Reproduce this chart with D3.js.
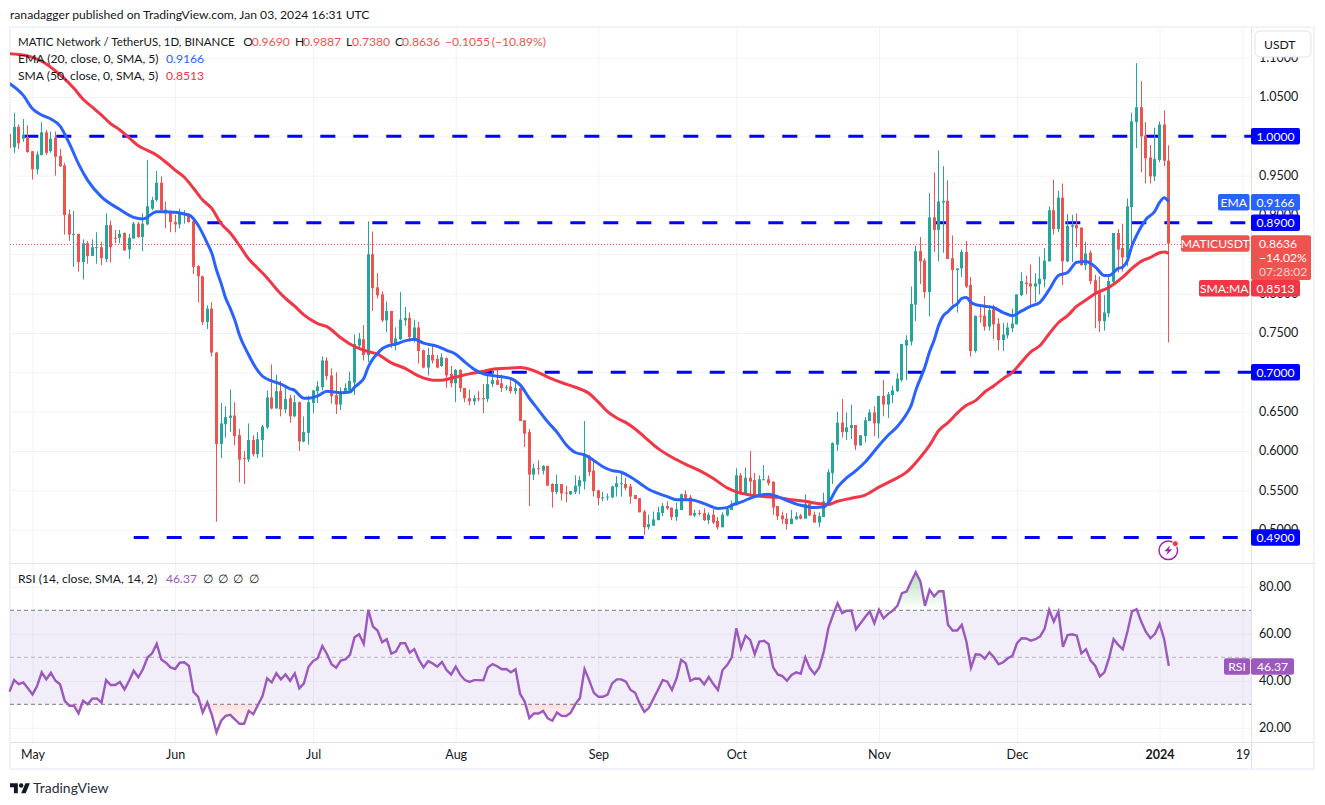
<!DOCTYPE html>
<html>
<head>
<meta charset="utf-8">
<title>MATIC Network / TetherUS</title>
<script src="https://cdn.jsdelivr.net/npm/d3@7/dist/d3.min.js"></script>
<style>
html, body { margin: 0; padding: 0; background: #fff; }
svg { display: block; }
text { font-family: Lato, "Open Sans", sans-serif; font-size: 12.15px; fill: #131722; }
</style>
</head>
<body>
<div id="chart"></div>
<script>
// daily candles, first one is Apr 26 2023, last one is Jan 3 2024
const opens = [
  1.003,.986,1.012,.997,.999,.981,.958,.976,1.005,.981,
  .998,.975,.963,.901,.875,.876,.840,.864,.848,.858,
  .859,.844,.887,.871,.871,.877,.856,.870,.889,.872,
  .888,.908,.919,.941,.907,.903,.891,.888,.900,.900,
  .892,.835,.822,.764,.781,.725,.609,.634,.642,.645,
  .620,.591,.589,.614,.596,.614,.630,.668,.654,.676,
  .653,.667,.644,.662,.612,.623,.661,.676,.681,.715,
  .696,.671,.659,.674,.677,.687,.734,.742,.722,.850,
  .808,.799,.766,.778,.736,.742,.766,.769,.742,.757,
  .728,.706,.722,.717,.708,.718,.698,.686,.703,.680,
  .667,.663,.667,.667,.666,.685,.690,.686,.680,.682,
  .676,.680,.639,.624,.570,.578,.575,.581,.558,.548,
  .558,.547,.545,.548,.555,.561,.593,.575,.550,.540,
  .541,.541,.554,.558,.558,.555,.544,.540,.523,.503,
  .505,.512,.521,.530,.528,.516,.525,.545,.541,.518,
  .521,.521,.512,.519,.511,.503,.518,.525,.531,.569,
  .546,.566,.563,.544,.563,.564,.561,.530,.518,.514,
  .507,.513,.518,.514,.533,.519,.509,.516,.535,.572,
  .608,.636,.624,.629,.633,.607,.619,.638,.649,.635,
  .670,.659,.671,.676,.690,.734,.739,.786,.854,.842,
  .802,.897,.881,.916,.918,.845,.830,.832,.853,.811,
  .727,.772,.772,.758,.780,.762,.741,.747,.756,.761,
  .798,.814,.813,.809,.812,.818,.841,.906,.882,.922,
  .841,.885,.887,.884,.836,.852,.817,.802,.765,.775,
  .815,.877,.858,.846,.910,1.018,1.037,1.001,.973,.949,
  .970,1.015,.969
];
const highs = [
  1.006,1.030,1.015,1.022,1.014,.981,.981,1.018,1.008,1.006,
  1.006,.984,.966,.907,.905,.876,.869,.867,.869,.878,
  .866,.902,.893,.881,.881,.878,.876,.891,.891,.902,
  .970,.923,.956,.949,.917,.905,.900,.908,.906,.902,
  .893,.836,.823,.785,.789,.726,.661,.657,.678,.662,
  .628,.600,.635,.620,.624,.633,.677,.710,.697,.689,
  .680,.671,.671,.663,.644,.670,.677,.689,.720,.719,
  .705,.700,.681,.686,.701,.748,.750,.760,.892,.879,
  .826,.803,.790,.778,.757,.802,.783,.776,.767,.764,
  .729,.731,.736,.722,.724,.719,.708,.704,.704,.680,
  .678,.671,.676,.685,.699,.703,.703,.697,.684,.691,
  .691,.680,.639,.628,.584,.588,.582,.581,.559,.570,
  .558,.556,.549,.569,.568,.638,.595,.588,.550,.548,
  .546,.556,.568,.572,.566,.558,.544,.540,.525,.519,
  .523,.529,.534,.536,.528,.534,.546,.550,.544,.525,
  .525,.527,.522,.526,.516,.522,.527,.537,.578,.572,
  .579,.600,.572,.569,.582,.569,.561,.530,.523,.521,
  .525,.522,.520,.545,.537,.523,.522,.547,.577,.611,
  .650,.666,.649,.659,.633,.620,.643,.653,.657,.670,
  .690,.675,.683,.699,.736,.747,.809,.861,.872,.845,
  .928,.954,.982,.962,.944,.874,.832,.856,.867,.821,
  .772,.785,.797,.785,.786,.769,.763,.763,.781,.799,
  .827,.823,.837,.826,.847,.858,.911,.945,.931,.940,
  .901,.900,.902,.884,.866,.855,.824,.822,.798,.823,
  .877,.882,.889,.921,1.030,1.093,1.070,1.018,.989,1.011,
  1.019,1.033,.9887
];
const lows = [
  .985,.979,.984,.993,.979,.945,.952,.976,.976,.979,
  .950,.961,.875,.867,.834,.828,.818,.838,.848,.838,
  .836,.840,.840,.864,.864,.854,.844,.870,.871,.854,
  .887,.906,.917,.904,.883,.878,.878,.883,.889,.890,
  .825,.789,.760,.755,.720,.510,.591,.617,.624,.607,
  .560,.558,.586,.593,.591,.592,.628,.653,.654,.644,
  .648,.636,.643,.600,.611,.608,.648,.661,.677,.690,
  .660,.647,.652,.672,.676,.671,.732,.715,.713,.778,
  .794,.764,.751,.731,.728,.741,.759,.739,.738,.711,
  .705,.696,.711,.705,.707,.680,.681,.662,.675,.662,
  .658,.658,.663,.648,.662,.681,.684,.675,.677,.673,
  .672,.638,.605,.530,.563,.570,.570,.556,.528,.545,
  .537,.535,.544,.545,.545,.551,.568,.542,.531,.536,
  .537,.540,.542,.542,.550,.533,.539,.522,.493,.500,
  .505,.512,.517,.525,.512,.511,.525,.537,.518,.516,
  .518,.511,.507,.507,.500,.503,.517,.525,.531,.544,
  .544,.544,.542,.544,.563,.556,.519,.512,.507,.500,
  .507,.513,.513,.514,.517,.509,.503,.516,.535,.558,
  .600,.617,.614,.615,.601,.607,.611,.638,.619,.616,
  .644,.642,.661,.675,.688,.690,.734,.765,.812,.794,
  .771,.853,.841,.852,.844,.786,.776,.821,.807,.720,
  .725,.763,.753,.753,.742,.728,.727,.743,.751,.761,
  .797,.799,.784,.789,.799,.808,.841,.875,.878,.811,
  .840,.840,.859,.836,.830,.812,.756,.751,.753,.770,
  .813,.827,.828,.835,.857,.985,.954,.940,.940,.943,
  .967,.962,.738
];
const closes = [
  .985,1.012,.991,1.002,.980,.958,.977,1.005,.979,.997,
  .974,.962,.900,.875,.876,.840,.864,.848,.859,.859,
  .845,.887,.859,.870,.876,.855,.871,.889,.872,.889,
  .911,.919,.941,.906,.902,.891,.888,.902,.902,.891,
  .834,.822,.764,.781,.725,.609,.635,.643,.645,.619,
  .589,.590,.614,.596,.615,.631,.668,.654,.676,.653,
  .666,.644,.662,.612,.624,.662,.677,.682,.715,.695,
  .670,.659,.675,.680,.689,.736,.743,.722,.850,.807,
  .798,.766,.778,.737,.743,.767,.769,.745,.757,.727,
  .706,.722,.715,.706,.719,.696,.686,.703,.680,.667,
  .663,.667,.666,.666,.685,.690,.684,.680,.681,.676,
  .680,.638,.622,.570,.578,.577,.581,.556,.548,.558,
  .546,.546,.549,.556,.563,.595,.573,.549,.540,.541,
  .542,.555,.559,.559,.553,.542,.539,.522,.503,.507,
  .513,.522,.530,.527,.516,.526,.545,.540,.518,.521,
  .520,.512,.519,.509,.503,.519,.526,.532,.569,.545,
  .566,.561,.542,.564,.564,.559,.528,.517,.513,.507,
  .514,.517,.514,.533,.518,.509,.517,.536,.573,.610,
  .636,.624,.630,.633,.607,.620,.639,.649,.635,.670,
  .659,.672,.677,.692,.736,.741,.787,.854,.841,.802,
  .897,.881,.917,.918,.844,.830,.832,.853,.809,.727,
  .772,.771,.758,.779,.761,.741,.748,.757,.762,.799,
  .816,.812,.809,.813,.819,.842,.906,.882,.922,.841,
  .886,.887,.883,.836,.851,.816,.800,.765,.776,.816,
  .877,.856,.846,.911,1.019,1.037,1.000,.972,.949,.971,
  1.015,.969,.8636
];

// moving averages, days are counted from May 1 2023
const emaDays = [-5,-2,0,2,4,6,8,10,12,15,19,22,24,27,29,34,36,38,39,40,41,42,43,44,45,47,48,50,52,54,56,57,58,59,60,62,
  64,67,69,70,71,72,73,74,75,76,77,79,81,83,85,88,90,92,94,96,98,101,104,105,106,108,110,112,114,116,118,120,122,124,126,128,
  130,132,134,136,138,140,143,146,149,151,152,154,157,160,162,164,167,170,172,173,175,177,179,181,184,186,188,190,191,192,194,
  195,196,197,198,199,200,201,202,203,204,205,207,209,211,213,215,217,219,221,223,225,227,229,231,233,234,236,237,238,239,240,241,242,244,245,246,247];
const emaValues = [1.067,1.052,1.035,1.027,1.022,1.013,.991,.965,.944,.923,.907,.897,.895,.904,.904,.900,.887,.864,.851,.830,.813,.794,.781,.766,.747,.722,.711,.695,.689,.685,.679,.677,.671,.667,.667,.670,
  .676,.674,.675,.681,.686,.692,.707,.717,.724,.730,.733,.736,.740,.742,.737,.733,.728,.723,.713,.704,.698,.695,.692,.689,.684,.667,.652,.637,.624,.608,.598,.595,.588,.580,.575,.573,
  .567,.559,.551,.546,.542,.538,.538,.533,.527,.528,.531,.535,.542,.545,.542,.537,.531,.528,.529,.534,.554,.566,.575,.586,.607,.620,.631,.647,.658,.677,.707,
  .726,.741,.760,.772,.777,.783,.787,.794,.795,.789,.786,.784,.782,.776,.772,.778,.784,.789,.805,.823,.827,.840,.841,.834,.823,.823,.832,.834,.842,.861,.874,.885,.894,.905,.916,.922,.9166];
const smaDays = [-5,-3,-1,1,3,5,7,9,11,13,15,17,19,21,23,25,27,29,31,33,35,37,39,41,43,45,47,49,51,53,55,57,59,61,62,
  64,67,69,72,75,78,81,84,87,89,92,95,98,100,103,106,109,112,115,118,121,123,125,127,129,
  131,133,136,139,142,145,148,151,153,156,159,162,165,168,171,173,175,178,181,184,187,190,193,195,197,
  199,201,203,205,207,209,211,213,215,217,219,221,223,225,227,229,231,234,237,239,241,243,245,246,247];
const smaValues = [1.105,1.104,1.102,1.098,1.092,1.083,1.073,1.061,1.047,1.037,1.027,1.016,1.008,.998,.988,.982,.976,.967,.957,.948,.934,.919,.908,.889,.877,.861,.844,.832,.820,.806,.794,.784,.773,.765,.762,
  .758,.744,.736,.728,.723,.712,.705,.695,.690,.690,.694,.698,.701,.704,.705,.706,.702,.694,.687,.681,.673,.662,.650,.642,.636,
  .628,.618,.603,.592,.583,.575,.565,.553,.548,.544,.542,.541,.538,.536,.533,.532,.536,.540,.544,.554,.563,.573,.592,.607,.626,
  .636,.648,.658,.664,.675,.683,.692,.700,.713,.726,.734,.749,.763,.772,.784,.792,.800,.808,.821,.832,.841,.846,.852,.853,.8513];

// one RSI value per candle
const rsiValues = [
  35.4,40.3,38.6,39.3,36.8,34.2,37.8,43.6,40.6,43.4,
  40.0,38.5,31.5,29.4,29.4,26.1,31.5,30.0,32.4,32.5,
  30.7,40.3,38.2,38.2,39.5,36.3,40.0,44.3,41.5,44.9,
  49.9,51.7,55.7,49.1,47.7,45.7,45.0,47.7,47.9,46.3,
  35.3,33.2,26.5,30.8,25.4,18.0,23.0,25.1,25.5,23.6,
  21.7,21.7,27.2,25.8,29.7,33.5,41.0,39.3,43.2,40.6,
  42.7,40.0,43.2,36.8,38.9,46.0,48.4,49.6,54.8,51.4,
  47.1,45.6,48.6,49.1,51.0,58.5,59.8,55.7,70.2,63.1,
  61.4,56.4,57.7,51.6,52.4,56.0,56.0,52.0,53.5,48.9,
  45.7,48.4,47.4,46.0,48.0,44.6,42.7,46.0,42.5,40.3,
  39.5,40.3,40.3,40.2,45.7,47.1,46.2,44.9,45.0,43.6,
  44.9,34.4,31.1,24.1,26.1,26.1,27.2,24.0,23.0,26.5,
  25.1,25.0,26.4,30.1,32.7,45.0,40.3,35.0,33.2,33.2,
  34.1,38.9,40.6,40.6,39.6,36.1,34.9,30.4,26.8,28.5,
  32.5,36.3,40.3,39.6,36.1,41.0,48.9,47.4,40.0,41.0,
  40.9,38.5,41.6,38.6,36.1,44.6,46.7,50.0,62.4,53.8,
  59.1,57.4,51.4,56.7,57.0,55.7,45.7,42.7,42.0,40.0,
  42.5,43.6,43.0,50.0,45.3,42.9,45.6,52.4,62.4,68.0,
  73.0,68.8,69.8,69.9,61.9,64.5,67.1,69.5,64.5,70.2,
  66.6,68.5,69.9,71.9,77.3,78.0,82.3,86.2,82.3,71.9,
  78.7,75.9,78.1,78.1,63.8,61.4,61.4,63.8,56.7,45.6,
  51.3,51.1,49.4,52.1,50.0,47.0,47.9,49.6,50.6,56.0,
  58.1,58.0,57.1,57.7,58.8,62.1,70.2,65.2,69.5,54.5,
  59.5,59.8,59.2,51.7,53.4,48.6,46.4,41.8,43.6,49.6,
  57.7,55.3,53.4,60.9,69.5,70.5,65.2,60.9,58.1,60.0,
  64.2,57.7,46.37
];

const priceTicks = [1.1,1.05,1,.95,.9,.85,.8,.75,.7,.65,.6,.55,.5];
// 1.0000, 0.8500 and 0.7000 sit fully under the tags so they get no label of their own
const priceLabels = [1.1,1.05,.95,.9,.8,.75,.65,.6,.55,.5];
const rsiTicks = [80,60,40,20];
const timeTicks = ['2023-05-01','2023-06-01','2023-07-01','2023-08-01','2023-09-01','2023-10-01','2023-11-01','2023-12-01','2024-01-01','2024-01-19'];
const timeLabels = ['May','Jun','Jul','Aug','Sep','Oct','Nov','Dec','2024','19'];

// horizontal levels drawn by the author, level and the day each one starts on
const levels = [1, .89, .7, .49];
const levelStarts = [-2, 38, 97, 22];

const green = '#26a69a', red = '#ef5350', blue = '#0000ff';
const emaColor = '#2962ff', smaColor = '#f23645', rsiColor = '#9c59bd', gridColor = '#f0f3f6';

const width = 1325, height = 805;
const paneL = 10, paneR = 1251, pricePane = [27, 563], rsiPane = [564, 742];

const svg = d3.select('#chart').append('svg').attr('width', width).attr('height', height);

const DAY = 86400000;
const may1 = Date.UTC(2023, 4, 1);
const dayToDate = d => new Date(may1 + d * DAY);

const x = d3.scaleUtc()
  .domain([new Date(Date.UTC(2023, 4, 1)), new Date(Date.UTC(2024, 0, 1))])
  .range([32.5, 1159.6]);
const y = d3.scaleLinear().domain([1, .7]).range([136.3, 372.3]);
const yRsi = d3.scaleLinear().domain([70, 30]).range([610.3, 704.3]);

const candles = opens.map((o, i) => ({
  day: i - 5, o: o, h: highs[i], l: lows[i], c: closes[i]
}));

const defs = svg.append('defs');
defs.append('clipPath').attr('id', 'price-clip').append('rect')
  .attr('x', paneL).attr('y', pricePane[0]).attr('width', paneR - paneL).attr('height', pricePane[1] - pricePane[0]);
defs.append('clipPath').attr('id', 'above-70').append('rect')
  .attr('x', paneL).attr('y', rsiPane[0]).attr('width', paneR - paneL).attr('height', yRsi(70) - rsiPane[0]);
defs.append('clipPath').attr('id', 'below-30').append('rect')
  .attr('x', paneL).attr('y', yRsi(30)).attr('width', paneR - paneL).attr('height', rsiPane[1] - yRsi(30));

const gradGreen = defs.append('linearGradient').attr('id', 'grad-green').attr('gradientUnits', 'userSpaceOnUse')
  .attr('x1', 0).attr('x2', 0).attr('y1', yRsi(86)).attr('y2', yRsi(70));
gradGreen.append('stop').attr('offset', 0).attr('stop-color', '#4caf50').attr('stop-opacity', .4);
gradGreen.append('stop').attr('offset', 1).attr('stop-color', '#4caf50').attr('stop-opacity', 0);
const gradRed = defs.append('linearGradient').attr('id', 'grad-red').attr('gradientUnits', 'userSpaceOnUse')
  .attr('x1', 0).attr('x2', 0).attr('y1', yRsi(30)).attr('y2', yRsi(20));
gradRed.append('stop').attr('offset', 0).attr('stop-color', '#ff5252').attr('stop-opacity', .18);
gradRed.append('stop').attr('offset', 1).attr('stop-color', '#ff5252').attr('stop-opacity', 0);

// outer frame
svg.append('rect').attr('x', 10).attr('y', 27).attr('width', 1304).attr('height', 742)
  .attr('fill', '#fff').attr('stroke', '#f0f3fa').attr('stroke-width', 2);

// grid, the axes only give us the lines here
const cleanGrid = g => {
  g.select('.domain').remove();
  g.selectAll('.tick line').attr('stroke', gridColor);
  g.selectAll('.tick text').remove();
};
svg.append('g').attr('transform', `translate(0,${rsiPane[1]})`)
  .call(d3.axisBottom(x).tickValues(timeTicks.map(t => new Date(t))).tickSize(-(rsiPane[1] - pricePane[0])))
  .call(cleanGrid);
svg.append('g').attr('transform', `translate(${paneR},0)`)
  .call(d3.axisLeft(y).tickValues(priceTicks).tickSize(paneR - paneL))
  .call(cleanGrid);
svg.append('g').attr('transform', `translate(${paneR},0)`)
  .call(d3.axisLeft(yRsi).tickValues(rsiTicks).tickSize(paneR - paneL))
  .call(cleanGrid);

// pane borders
[pricePane[1] + .5, rsiPane[1] + .5].forEach(v => {
  svg.append('line').attr('x1', paneL).attr('x2', 1314).attr('y1', v).attr('y2', v).attr('stroke', '#e0e3eb');
});
svg.append('line').attr('x1', paneR + .5).attr('x2', paneR + .5).attr('y1', 27).attr('y2', 769).attr('stroke', '#e0e3eb');

// dashed levels
svg.append('g').selectAll('line')
  .data(levels)
  .enter()
  .append('line')
  .attr('x1', (d, i) => x(dayToDate(levelStarts[i])))
  .attr('x2', paneR)
  .attr('y1', d => y(d))
  .attr('y2', d => y(d))
  .attr('stroke', blue)
  .attr('stroke-width', 3)
  .attr('stroke-dasharray', '15,18');

// last price line
svg.append('line')
  .attr('x1', paneL).attr('x2', paneR)
  .attr('y1', Math.round(y(closes[closes.length - 1])) + .5)
  .attr('y2', Math.round(y(closes[closes.length - 1])) + .5)
  .attr('stroke', red)
  .attr('stroke-dasharray', '1,2');

// candles
const candleG = svg.append('g').attr('clip-path', 'url(#price-clip)');
const cx = d => Math.floor(x(dayToDate(d.day))) + .5;
candleG.selectAll('line')
  .data(candles)
  .enter()
  .append('line')
  .attr('x1', cx).attr('x2', cx)
  .attr('y1', d => y(d.h))
  .attr('y2', d => y(d.l))
  .attr('stroke', d => d.c >= d.o ? green : red);
candleG.selectAll('rect')
  .data(candles)
  .enter()
  .append('rect')
  .attr('x', d => cx(d) - 1.5)
  .attr('width', 3)
  .attr('y', d => y(Math.max(d.o, d.c)))
  .attr('height', d => Math.max(1, Math.abs(y(d.o) - y(d.c))))
  .attr('fill', d => d.c >= d.o ? green : red);

// moving averages
const maLine = d3.line().x(d => x(dayToDate(d[0]))).y(d => y(d[1])).curve(d3.curveMonotoneX);
svg.append('path').datum(d3.zip(smaDays, smaValues))
  .attr('d', maLine).attr('fill', 'none').attr('stroke', smaColor).attr('stroke-width', 3)
  .attr('clip-path', 'url(#price-clip)');
svg.append('path').datum(d3.zip(emaDays, emaValues))
  .attr('d', maLine).attr('fill', 'none').attr('stroke', emaColor).attr('stroke-width', 3)
  .attr('clip-path', 'url(#price-clip)');

// RSI band and guide lines
svg.append('rect')
  .attr('x', paneL).attr('width', paneR - paneL)
  .attr('y', yRsi(70)).attr('height', yRsi(30) - yRsi(70))
  .attr('fill', '#7e57c2').attr('fill-opacity', .1);
[[70, '#787b86'], [50, '#b2b5be'], [30, '#787b86']].forEach(l => {
  svg.append('line')
    .attr('x1', paneL).attr('x2', paneR)
    .attr('y1', yRsi(l[0])).attr('y2', yRsi(l[0]))
    .attr('stroke', l[1]).attr('stroke-dasharray', '4,3');
});

const rsiPoints = rsiValues.map((v, i) => [i - 5, v]);
const rsiArea = level => d3.area().x(d => x(dayToDate(d[0]))).y0(yRsi(level)).y1(d => yRsi(d[1]));
svg.append('path').datum(rsiPoints).attr('d', rsiArea(70))
  .attr('fill', 'url(#grad-green)').attr('clip-path', 'url(#above-70)');
svg.append('path').datum(rsiPoints).attr('d', rsiArea(30))
  .attr('fill', 'url(#grad-red)').attr('clip-path', 'url(#below-30)');
svg.append('path').datum(rsiPoints)
  .attr('d', d3.line().x(d => x(dayToDate(d[0]))).y(d => yRsi(d[1])))
  .attr('fill', 'none').attr('stroke', rsiColor).attr('stroke-width', 2.4);

// axes labels
const priceAxis = svg.append('g').attr('transform', `translate(${paneR},0)`)
  .call(d3.axisRight(y).tickValues(priceLabels).tickSize(0).tickPadding(8).tickFormat(d3.format('.4f')));
priceAxis.select('.domain').remove();
const rsiAxis = svg.append('g').attr('transform', `translate(${paneR},0)`)
  .call(d3.axisRight(yRsi).tickValues(rsiTicks).tickSize(0).tickPadding(8).tickFormat(d3.format('.2f')));
rsiAxis.select('.domain').remove();
const timeAxis = svg.append('g').attr('transform', `translate(0,${rsiPane[1]})`)
  .call(d3.axisBottom(x).tickValues(timeTicks.map(t => new Date(t))).tickSize(0).tickPadding(8)
    .tickFormat((d, i) => timeLabels[i]));
timeAxis.select('.domain').remove();
timeAxis.selectAll('.tick text').attr('font-weight', (d, i) => timeLabels[i] === '2024' ? 700 : 400);
svg.selectAll('.tick text').style('font-family', 'Lato, sans-serif').style('font-size', '12.5px').style('fill', '#131722');

// price tags on the right axis
function tag(x0, x1, yc, h, color, label) {
  svg.append('rect').attr('x', x0).attr('y', yc - h / 2).attr('width', x1 - x0).attr('height', h)
    .attr('rx', 2).attr('fill', color);
  svg.append('text').attr('x', (x0 + x1) / 2).attr('y', yc).attr('dy', '.35em')
    .attr('text-anchor', 'middle').style('fill', '#fff').text(label);
}
levels.forEach(l => tag(paneR, 1300, y(l), 16.5, blue, d3.format('.4f')(l)));
tag(1218, 1249.5, 202.3, 16.5, emaColor, 'EMA');
tag(paneR, 1300, 202.3, 16.5, emaColor, '0.9166');
tag(1181, 1249.5, 243.5, 16.5, red, 'MATICUSDT');
svg.append('rect').attr('x', paneR).attr('y', 235.3).attr('width', 60).attr('height', 44.7).attr('rx', 2).attr('fill', red);
['0.8636', '\u221214.02%', '07:28:02'].forEach((t, i) => {
  svg.append('text').attr('x', 1259).attr('y', 243.5 + i * 14).attr('dy', '.35em')
    .style('fill', i === 2 ? 'rgba(255,255,255,.75)' : '#fff').text(t);
});
tag(1199, 1249.5, 288.3, 16.5, smaColor, 'SMA:MA');
tag(paneR, 1300, 288.3, 16.5, smaColor, '0.8513');
tag(1224, 1250, 666.5, 16.5, rsiColor, 'RSI');
tag(paneR, 1294, 666.5, 16.5, rsiColor, '46.37');

// currency button
svg.append('rect').attr('x', 1255).attr('y', 31).attr('width', 56).attr('height', 26).attr('rx', 5)
  .attr('fill', '#fff').attr('stroke', '#e0e3eb');
svg.append('text').attr('x', 1264).attr('y', 45).attr('dy', '.35em').text('USDT');

// legends
function legend(px, py, str, color, size) {
  svg.append('text').attr('x', px).attr('y', py).attr('dy', '.35em')
    .style('fill', color || '#131722').style('font-size', size || null).text(str);
}
legend(10, 15, 'ranadagger published on TradingView.com, Jan 03, 2024 16:31 UTC');
legend(18, 42, 'MATIC Network / TetherUS, 1D, BINANCE', null, '11.5px');
legend(243.3, 42, 'O');
legend(251.7, 42, '0.9690', red);
legend(295, 42, 'H');
legend(303, 42, '0.9887', red);
legend(346, 42, 'L');
legend(352, 42, '0.7380', red);
legend(395, 42, 'C');
legend(402, 42, '0.8636', red);
legend(445, 42, '\u22120.1055', red);
legend(491.7, 42, '(\u221210.89%)', red);
legend(18, 59, 'EMA (20, close, 0, SMA, 5)');
legend(166, 59, '0.9166', emaColor);
legend(18, 76, 'SMA (50, close, 0, SMA, 5)');
legend(166, 76, '0.8513', smaColor);
legend(18, 579, 'RSI (14, close, SMA, 14, 2)');
legend(166, 579, '46.37', rsiColor);
[207, 222, 237, 253].forEach(v => legend(v - 4, 579, '\u2205'));

// news marker
const icon = svg.append('g').attr('transform', 'translate(1168.3,550.3)');
icon.append('circle').attr('r', 9.3).attr('fill', '#fff').attr('stroke', '#9c27b0').attr('stroke-width', 1.5);
icon.append('path').attr('d', 'M2,-5 L-4,1 L-.5,1 L-2,5 L4,-1 L.5,-1 Z').attr('fill', '#9c27b0');
icon.append('circle').attr('cx', 7).attr('cy', -6.6).attr('r', 3).attr('fill', '#f23645').attr('stroke', '#fff');

// logo
const logo = svg.append('g').attr('transform', 'translate(10,781) scale(.56)').attr('fill', '#131722');
logo.append('path').attr('d', 'M14 22H7V11H0V4h14v18zM28 22h-8l7.5-18h8L28 22z');
logo.append('circle').attr('cx', 20).attr('cy', 8).attr('r', 4);
svg.append('text').attr('x', 33).attr('y', 787.7).attr('dy', '.35em').style('font-size', '14px').style('fill', '#2a2e39').text('TradingView');
</script>
</body>
</html>
